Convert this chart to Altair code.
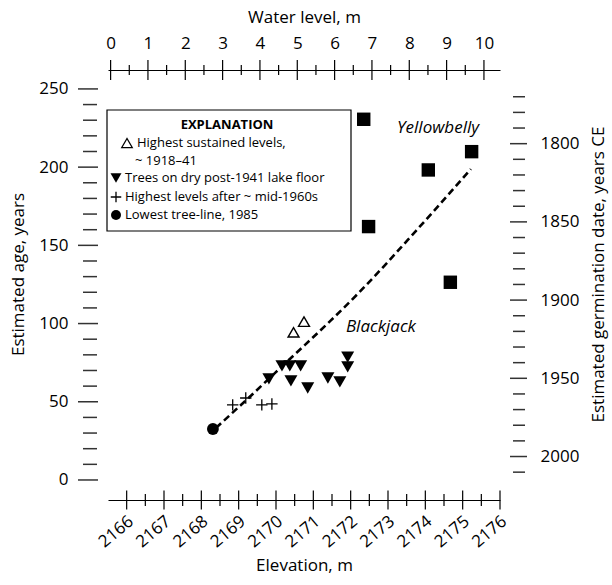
import altair as alt
import pandas as pd

FONT = "Open Sans"

# ---------------- data ----------------
yellow_elev = [2172.35, 2175.24, 2174.08, 2172.48, 2174.67]
yellow_age = [230.6, 209.9, 198.2, 162.0, 126.4]

sustained_elev = [2170.47, 2170.75]
sustained_age = [94.4, 101.2]

dry_elev = [2170.16, 2170.37, 2170.66, 2169.81, 2170.40, 2170.85, 2171.39, 2171.71, 2171.92, 2171.92]
dry_age = [72.9, 72.9, 72.9, 64.6, 63.3, 58.8, 65.2, 62.7, 78.6, 72.3]

post60_elev = [2168.84, 2169.19, 2169.62, 2169.89]
post60_age = [48.0, 52.4, 48.0, 48.6]

treeline_elev = [2168.31]
treeline_age = [32.6]

fit_elev = [2168.39, 2169.27, 2170.40, 2171.47, 2172.19, 2173.00, 2173.53, 2174.23, 2175.22]
fit_age = [33.2, 52.6, 78.0, 102.0, 119.0, 139.5, 153.5, 172.0, 198.8]

site_names = ["Yellowbelly", "Blackjack"]
site_elev = [2174.34, 2172.81]
site_age = [225.0, 97.8]

elev_ticks = list(range(2166, 2177))
elev_minor = [v + 0.5 for v in range(2166, 2176)]
water_ticks = list(range(0, 11))
water_minor = [v + 0.5 for v in range(0, 10)]
age_major = [0, 50, 100, 150, 200, 250]
age_minor = [v for v in range(0, 251, 10) if v % 50 != 0]
date_major = [1800, 1850, 1900, 1950, 2000]
date_minor = [v for v in range(1770, 2011, 10) if v % 50 != 0]

legend_title = "EXPLANATION"
legend_lines = [
    "Highest sustained levels,",
    "~ 1918\u201341",
    "Trees on dry post-1941 lake floor",
    "Highest levels after ~ mid-1960s",
    "Lowest tree-line, 1985",
]

# ---------------- scales & axes ----------------
W, H = 392, 430
XS = alt.Scale(domain=[2165.5, 2176.0], nice=False, zero=False)
YS = alt.Scale(domain=[-12.8, 262.1], nice=False, zero=False)
WS = alt.Scale(domain=[-0.07, 10.43], nice=False, zero=False)
DS = alt.Scale(domain=[2015 - 262.1, 2015 + 12.8], reverse=True, nice=False, zero=False)

LAB = dict(labelFont=FONT, labelFontSize=17, labelColor="black",
           titleFont=FONT, titleFontSize=17, titleFontWeight="normal", titleColor="black",
           grid=False, domainColor="black", domainWidth=1.2)

AX_B = alt.Axis(orient="bottom", values=elev_ticks, format="d", ticks=False, tickSize=0,
                domain=True, labelAngle=320, labelAlign="right", labelBaseline="middle",
                labelPadding=19, labelOffset=4, labelOverlap=False,
                title="Elevation, m", titleY=65, titleBaseline="middle", **LAB)
AX_L = alt.Axis(orient="left", values=age_major, ticks=False, tickSize=0, domain=False,
                labelPadding=40, title="Estimated age, years", titleAngle=270,
                titleX=-90, titleY=204, titleAlign="center", titleBaseline="middle", **LAB)
AX_T = alt.Axis(orient="top", values=water_ticks, format="d", ticks=False, tickSize=0,
                domain=True, labelPadding=27, labelBaseline="middle",
                title="Water level, m", titleY=-53, titleBaseline="middle", **LAB)
AX_R = alt.Axis(orient="right", values=date_major, format="d", ticks=False, tickSize=0,
                domain=False, labelPadding=40,
                title="Estimated germination date, years CE", titleAngle=270,
                titleX=98, titleY=204, titleAlign="center", titleBaseline="middle", **LAB)


def xa(f):
    return alt.X(f"{f}:Q", scale=XS, axis=AX_B)


def ya(f):
    return alt.Y(f"{f}:Q", scale=YS, axis=AX_L)


def pts(elev, age):
    return pd.DataFrame({"e": elev, "a": age})


PLUS = "M-1,0L1,0M0,-1L0,1"

fit = alt.Chart(pts(fit_elev, fit_age)).mark_line(
    color="black", strokeWidth=2.6, strokeDash=[7, 4], interpolate="monotone"
).encode(x=xa("e"), y=ya("a"))

yellow = alt.Chart(pts(yellow_elev, yellow_age)).mark_point(
    shape="square", filled=True, color="black", size=180, opacity=1
).encode(x=xa("e"), y=ya("a"))

sustained = alt.Chart(pts(sustained_elev, sustained_age)).mark_point(
    shape="triangle-up", filled=False, color="black", size=120, strokeWidth=1.4, opacity=1
).encode(x=xa("e"), y=ya("a"))

dry = alt.Chart(pts(dry_elev, dry_age)).mark_point(
    shape="triangle-down", filled=True, color="black", size=170, opacity=1
).encode(x=xa("e"), y=ya("a"))

post60 = alt.Chart(pts(post60_elev, post60_age)).mark_point(
    shape=PLUS, filled=False, color="black", size=130, strokeWidth=1.3, opacity=1
).encode(x=xa("e"), y=ya("a"))

treeline = alt.Chart(pts(treeline_elev, treeline_age)).mark_point(
    shape="circle", filled=True, color="black", size=140, opacity=1
).encode(x=xa("e"), y=ya("a"))

sites = alt.Chart(pd.DataFrame({"e": site_elev, "a": site_age, "t": site_names})).mark_text(
    font=FONT, fontSize=17, fontStyle="italic", color="black", align="center", baseline="middle"
).encode(x=xa("e"), y=ya("a"), text="t:N")

# axis tick marks (crossing / free-standing ticks)
bt_major = alt.Chart(pd.DataFrame({"e": elev_ticks})).mark_rule(color="black", strokeWidth=1.2).encode(
    x=xa("e"), y=alt.value(H - 9.5), y2=alt.value(H + 9.5))
bt_minor = alt.Chart(pd.DataFrame({"e": elev_minor})).mark_rule(color="black", strokeWidth=1.2).encode(
    x=xa("e"), y=alt.value(H - 6), y2=alt.value(H + 6))
lt_major = alt.Chart(pd.DataFrame({"a": age_major})).mark_rule(color="#333", strokeWidth=1.5).encode(
    y=ya("a"), x=alt.value(-30), x2=alt.value(-10))
lt_minor = alt.Chart(pd.DataFrame({"a": age_minor})).mark_rule(color="#333", strokeWidth=1.5).encode(
    y=ya("a"), x=alt.value(-25), x2=alt.value(-11))

# legend (explanation box)
one = pd.DataFrame({"k": [0]})
box = alt.Chart(one).mark_rect(fill="white", stroke="black", strokeWidth=1.2).encode(
    x=alt.value(-1), x2=alt.value(243), y=alt.value(40), y2=alt.value(161))
leg_title = alt.Chart(one).mark_text(
    text=legend_title, font=FONT, fontSize=13, fontWeight="bold", color="black", align="center", baseline="middle"
).encode(x=alt.value(119), y=alt.value(55))
leg_rows_y = [73, 91, 108, 127, 145]
leg_rows_x = [29, 27, 17, 17, 17]
leg_texts = [
    alt.Chart(one).mark_text(text=t, font=FONT, fontSize=13, color="black", align="left", baseline="middle")
    .encode(x=alt.value(xx), y=alt.value(yy))
    for t, xx, yy in zip(legend_lines, leg_rows_x, leg_rows_y)
]
leg_syms = [
    alt.Chart(one).mark_point(shape="triangle-up", filled=False, color="black", size=110, strokeWidth=1.3, opacity=1)
    .encode(x=alt.value(19), y=alt.value(73)),
    alt.Chart(one).mark_point(shape="triangle-down", filled=True, color="black", size=120, opacity=1)
    .encode(x=alt.value(8), y=alt.value(108)),
    alt.Chart(one).mark_point(shape=PLUS, filled=False, color="black", size=110, strokeWidth=1.3, opacity=1)
    .encode(x=alt.value(8), y=alt.value(127)),
    alt.Chart(one).mark_point(shape="circle", filled=True, color="black", size=100, opacity=1)
    .encode(x=alt.value(8), y=alt.value(145)),
]

layer_a = alt.layer(
    bt_major, bt_minor, lt_major, lt_minor, fit, yellow, sustained, dry, post60, treeline, sites,
    box, leg_title, *leg_texts, *leg_syms
)

# secondary axes: water level (top) and germination date (right)
tt_major = alt.Chart(pd.DataFrame({"w": water_ticks})).mark_rule(color="black", strokeWidth=1.2).encode(
    x=alt.X("w:Q", scale=WS, axis=AX_T), y=alt.value(-10), y2=alt.value(10))
tt_minor = alt.Chart(pd.DataFrame({"w": water_minor})).mark_rule(color="black", strokeWidth=1.2).encode(
    x=alt.X("w:Q", scale=WS, axis=AX_T), y=alt.value(-5), y2=alt.value(5))
rt_major = alt.Chart(pd.DataFrame({"d": date_major})).mark_rule(color="#333", strokeWidth=1.5).encode(
    y=alt.Y("d:Q", scale=DS, axis=AX_R), x=alt.value(W + 10), x2=alt.value(W + 27))
rt_minor = alt.Chart(pd.DataFrame({"d": date_minor})).mark_rule(color="#333", strokeWidth=1.5).encode(
    y=alt.Y("d:Q", scale=DS, axis=AX_R), x=alt.value(W + 13), x2=alt.value(W + 25))

layer_b = alt.layer(tt_major, tt_minor, rt_major, rt_minor)

chart = alt.layer(layer_a, layer_b).resolve_scale(
    x="independent", y="independent"
).properties(
    width=W, height=H, autosize=alt.AutoSizeParams(type="none"),
    padding={"left": 108, "top": 70, "right": 112, "bottom": 85},
    background="white",
).configure_view(stroke=None)

chart.save("out.html", embed_options={"renderer": "svg", "actions": False})
